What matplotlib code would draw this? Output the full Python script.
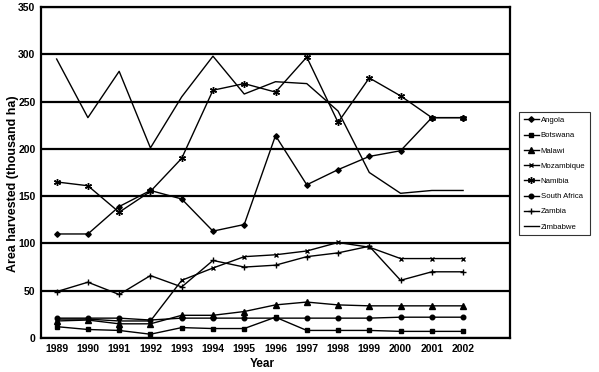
import matplotlib
matplotlib.use('Agg')
import matplotlib.pyplot as plt

plt.rcParams['font.family'] = ['Liberation Sans', 'DejaVu Sans']

years = list(range(1989, 2003))

# area harvested, thousand ha
angola = [110, 110, 139, 156, 147, 113, 120, 214, 162, 178, 192, 198, 233, 233]
botswana = [12, 9, 8, 4, 11, 10, 10, 22, 8, 8, 8, 7, 7, 7]
malawi = [18, 19, 15, 15, 24, 24, 28, 35, 38, 35, 34, 34, 34, 34]
mozambique = [20, 20, 18, 18, 61, 74, 86, 88, 92, 101, 96, 84, 84, 84]
namibia = [165, 161, 133, 155, 190, 262, 269, 260, 297, 228, 275, 256, 233, 233]
south_africa = [21, 21, 21, 19, 21, 21, 21, 21, 21, 21, 21, 22, 22, 22]
zambia = [49, 59, 46, 66, 54, 82, 75, 77, 86, 90, 97, 61, 70, 70]
zimbabwe = [295, 233, 282, 201, 255, 298, 258, 271, 269, 240, 175, 153, 156, 156]

series = [
    ('Angola', angola, 'D', 2.8),
    ('Botswana', botswana, 's', 3.2),
    ('Malawi', malawi, '^', 3.8),
    ('Mozambique', mozambique, 'x', 3.5),
    ('Namibia', namibia, (6, 2, 0), 5),
    ('South Africa', south_africa, 'o', 3.3),
    ('Zambia', zambia, '+', 5),
    ('Zimbabwe', zimbabwe, None, 0),
]

fig = plt.figure(figsize=(5.99, 3.72), dpi=100)
ax = fig.add_axes([41 / 599, 1 - 338 / 372, (510 - 41) / 599, (338 - 7) / 372])

for name, vals, m, ms in series:
    ax.plot(years, vals, color='black', lw=1, marker=m, markersize=ms,
            markeredgewidth=1, label=name)

ax.set_xlim(1988.5, 2003.5)
ax.set_ylim(0, 350)
ax.set_xticks(years)
ax.set_xticklabels([str(y) for y in years], fontsize=7.5, fontweight='bold')
ax.set_yticks(range(0, 351, 50))
ax.set_yticklabels([str(v) for v in range(0, 351, 50)], fontsize=7.5, fontweight='bold')
ax.tick_params(length=0, pad=4)
ax.grid(axis='y', color='black', lw=1.6)
ax.set_axisbelow(True)
for s in ax.spines.values():
    s.set_linewidth(1.6)

fig.text(262 / 599, 1 - 364 / 372, 'Year', fontsize=8.5, fontweight='bold',
         ha='center', va='center')
fig.text(13 / 599, 1 - 184 / 372, 'Area harvested (thousand ha)', fontsize=9,
         fontweight='bold', rotation=90, ha='center', va='center')

leg = ax.legend(loc='upper left', bbox_to_anchor=(519 / 599, 1 - 112 / 372),
                bbox_transform=fig.transFigure, fontsize=5.6, frameon=True,
                fancybox=False, edgecolor='black', handlelength=2.0,
                handletextpad=0.2, borderpad=0.6, borderaxespad=0,
                labelspacing=1.0)
leg.get_frame().set_linewidth(0.8)

fig.savefig('out.png', dpi=100)
